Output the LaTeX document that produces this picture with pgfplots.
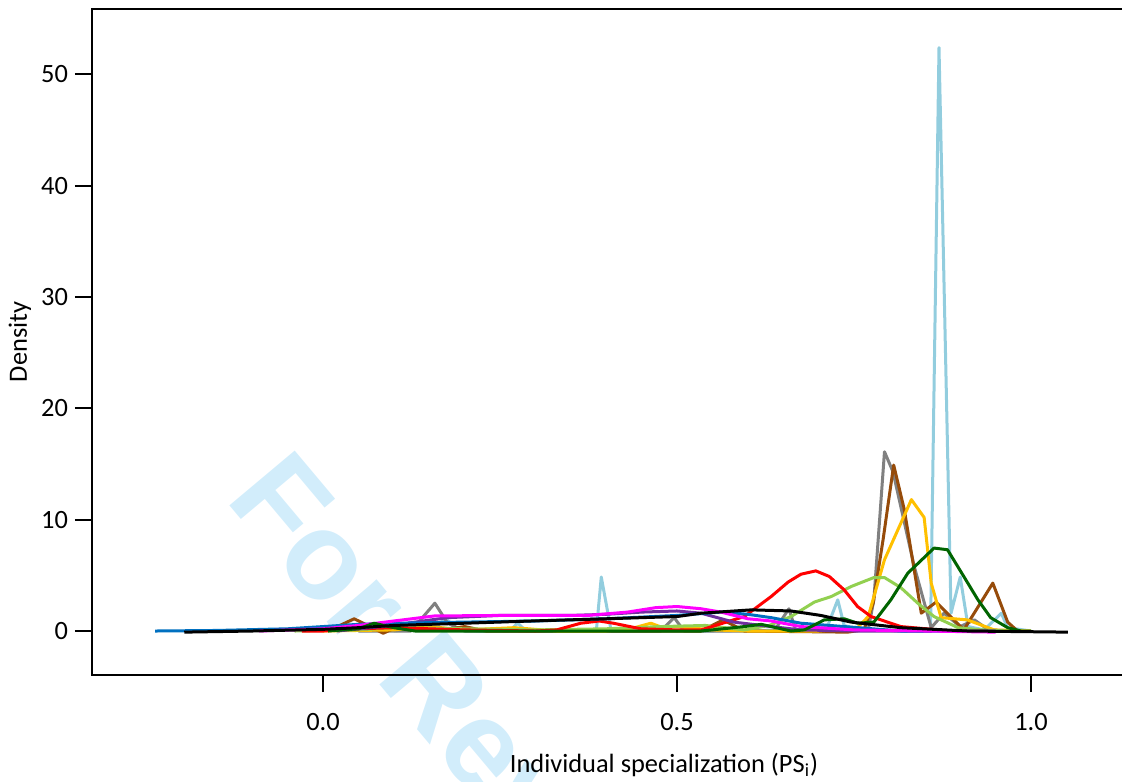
\documentclass[border=0pt]{standalone}
\usepackage{fontspec}
\setmainfont{Carlito}
\newfontfamily\wmfont{Liberation Sans}
\usepackage{pgfplots}
\pgfplotsset{compat=1.18}

\definecolor{lb}{RGB}{146,205,222}
\definecolor{gr}{RGB}{128,128,128}
\definecolor{br}{RGB}{150,75,10}
\definecolor{go}{RGB}{255,192,0}
\definecolor{dg}{RGB}{0,100,0}
\definecolor{yg}{RGB}{146,208,80}
\definecolor{rd}{RGB}{255,0,0}
\definecolor{pu}{RGB}{112,48,160}
\definecolor{mg}{RGB}{255,0,255}
\definecolor{bl}{RGB}{0,112,192}
\definecolor{wm}{RGB}{210,237,251}

\begin{document}
\begin{tikzpicture}
% watermark behind the plot
\node[anchor=base west, rotate=-50, text=wm, inner sep=0pt,
      font=\wmfont\bfseries\fontsize{62}{66}\selectfont] at (66pt,88pt) {For Review};
\begin{axis}[
  at={(0,0)}, anchor=south west,
  scale only axis, width=572pt, height=333pt,
  xmin=-0.3263, xmax=1.2895,
  ymin=-3.95, ymax=55.86,
  axis line style={line width=1pt},
  tick style={line width=1pt, black},
  tick align=outside, major tick length=8.5pt,
  xtick={0,0.5,1}, ytick={0,10,20,30,40,50},
  xtick pos=bottom, ytick pos=left,
  xticklabel style={/pgf/number format/fixed, /pgf/number format/fixed zerofill,
                    /pgf/number format/precision=1, yshift=-7pt},
  /pgf/number format/assume math mode=true,
  tick label style={font=\fontsize{13.2}{16}\selectfont},
  xlabel style={at={(axis description cs:0.5,-0.135)}, anchor=center,
                font=\fontsize{13.2}{16}\selectfont},
  ylabel style={at={(axis description cs:-0.063,0.5)}, anchor=center, rotate=0,
                font=\fontsize{13.2}{16}\selectfont},
  xlabel={Individual specialization (PS\textsubscript{i})},
  ylabel={Density},
  every axis plot/.append style={line width=1.5pt, line join=round, no markers},
]
% light blue
\addplot[lb] coordinates {
 (0.10,0)(0.14,0.2)(0.175,1.0)(0.19,0.2)(0.22,0)(0.263,0)(0.275,0.7)(0.287,0)
 (0.37,0)(0.386,0)(0.393,4.85)(0.407,0)(0.55,0)(0.66,0.1)(0.70,0.2)(0.713,0.5)
 (0.727,2.8)(0.736,0.5)(0.76,0.1)(0.84,0)(0.858,0)(0.870,52.4)(0.887,1.6)
 (0.900,4.85)(0.911,0.4)(0.934,0.1)(0.958,1.6)(0.967,0.3)(1.0,0)};
% gray
\addplot[gr] coordinates {
 (0.05,0)(0.124,0)(0.158,2.5)(0.176,0.7)(0.20,0)(0.46,0)(0.477,0)(0.496,1.2)
 (0.51,0)(0.637,0)(0.658,2.0)(0.668,0)(0.77,0.1)(0.778,2.8)(0.793,16.1)
 (0.805,14.3)(0.835,5.8)(0.859,0.3)(0.877,1.6)(0.90,0.4)(0.92,1.0)(0.94,0.1)(0.98,0)};
% brown
\addplot[br] coordinates {
 (0.007,0)(0.044,1.1)(0.085,-0.2)(0.106,0.4)(0.13,0.1)(0.17,0.1)(0.20,0.4)(0.23,0)
 (0.534,0)(0.565,1.0)(0.595,0)(0.741,-0.1)(0.764,0.1)(0.777,2.5)(0.791,8.2)
 (0.806,14.9)(0.821,10.9)(0.845,1.6)(0.866,2.6)(0.905,0.1)(0.946,4.3)(0.967,0.8)(0.981,0)};
% gold
\addplot[go] coordinates {
 (0.0,0)(0.10,0.1)(0.15,0.4)(0.20,0.1)(0.27,0.3)(0.33,0)(0.40,0)(0.44,0.3)(0.463,0.7)
 (0.48,0.3)(0.50,0.4)(0.55,0.1)(0.60,0)(0.70,0)(0.755,0.3)(0.77,1.3)(0.793,6.4)
 (0.831,11.8)(0.849,10.2)(0.859,4.3)(0.873,1.2)(0.91,1.0)(0.948,0.1)(1.0,0)};
% yellow green
\addplot[yg] coordinates {
 (-0.04,0)(0.05,0.1)(0.10,0.3)(0.20,0.2)(0.30,0.1)(0.40,0.2)(0.477,0.4)(0.54,0.5)
 (0.595,0.1)(0.63,0.5)(0.661,1.3)(0.694,2.6)(0.718,3.1)(0.746,4.0)(0.778,4.8)
 (0.793,4.8)(0.816,3.9)(0.84,2.5)(0.863,1.3)(0.897,0.3)(0.93,0.1)(0.97,0)};
% red
\addplot[rd] coordinates {
 (-0.03,0)(0.0,0)(0.05,0.2)(0.10,0.3)(0.20,0.1)(0.30,0)(0.33,0.1)(0.364,0.7)(0.39,0.9)
 (0.41,0.7)(0.449,0.2)(0.50,0.1)(0.534,0.1)(0.595,1.3)(0.633,3.1)(0.657,4.4)(0.675,5.1)
 (0.696,5.4)(0.715,4.9)(0.736,3.7)(0.755,2.2)(0.774,1.3)(0.816,0.4)(0.887,0)(0.95,0)};
% purple
\addplot[pu] coordinates {
 (0.02,0)(0.05,0.2)(0.10,0.5)(0.13,0.8)(0.176,1.2)(0.25,1.4)(0.35,1.4)(0.40,1.5)
 (0.45,1.7)(0.50,1.8)(0.534,1.6)(0.58,0.8)(0.633,0.4)(0.675,0.1)(0.75,0)(0.86,0)};
% blue
\addplot[bl] coordinates {
 (-0.237,0)(-0.15,0.05)(-0.05,0.2)(0.0,0.4)(0.05,0.6)(0.10,0.7)(0.20,0.8)(0.30,0.9)
 (0.40,1.1)(0.50,1.4)(0.562,1.7)(0.60,1.5)(0.633,1.2)(0.675,0.7)(0.736,0.4)(0.816,0)(0.95,0)};
% magenta
\addplot[mg] coordinates {
 (-0.09,0)(0.0,0.2)(0.05,0.5)(0.10,0.9)(0.157,1.35)(0.25,1.4)(0.374,1.4)(0.43,1.7)
 (0.47,2.1)(0.50,2.2)(0.534,2.0)(0.562,1.7)(0.60,1.1)(0.633,0.9)(0.675,0.4)(0.75,0.1)
 (0.85,0)(0.95,-0.1)};
% dark green
\addplot[dg] coordinates {
 (0.007,0)(0.05,0.2)(0.072,0.7)(0.10,0.3)(0.13,0)(0.534,0)(0.595,0.4)(0.619,0.6)
 (0.661,0)(0.68,0.1)(0.708,1.0)(0.736,1.1)(0.755,0.7)(0.778,0.8)(0.802,2.8)(0.826,5.2)
 (0.863,7.45)(0.882,7.3)(0.905,4.9)(0.925,2.8)(0.943,1.2)(0.967,0.3)(0.986,0)(1.0,0)};
% black
\addplot[black] coordinates {
 (-0.196,-0.1)(-0.10,0)(0.0,0.15)(0.05,0.3)(0.10,0.5)(0.20,0.7)(0.294,0.9)(0.40,1.1)
 (0.50,1.3)(0.534,1.6)(0.605,1.9)(0.661,1.8)(0.703,1.4)(0.746,0.8)(0.816,0.3)(0.91,0)
 (1.052,-0.1)};
\end{axis}
\pgfresetboundingbox
\path[use as bounding box] (-46pt,-53pt) rectangle (515pt,337.5pt);
\end{tikzpicture}
\end{document}
